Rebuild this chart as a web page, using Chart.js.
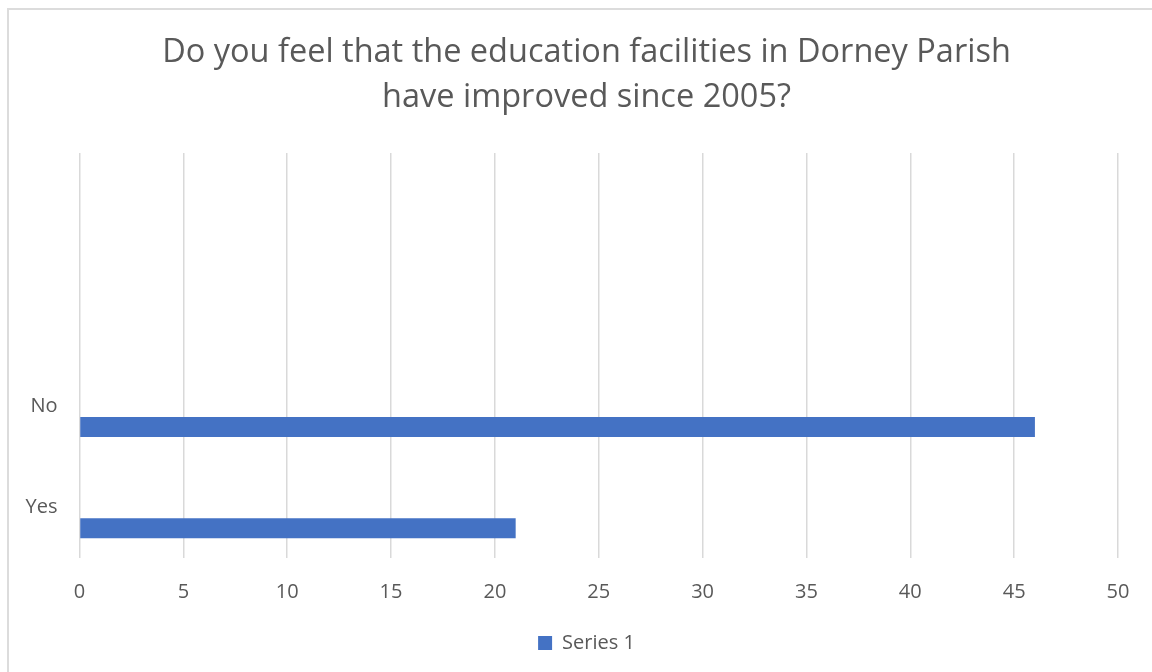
<!DOCTYPE html>
<html>
<head>
<meta charset="utf-8">
<title>Education facilities survey</title>
<script src="https://cdn.jsdelivr.net/npm/chart.js@4.4.1/dist/chart.umd.min.js"></script>
<style>
  html, body { margin: 0; padding: 0; background: #fff; }
  #wrap { position: relative; width: 1152px; height: 672px; overflow: hidden; }
  #frame {
    position: absolute; left: 7px; top: 8px; width: 1200px; height: 720px;
    border-left: 2px solid #dcdcdc; border-top: 2px solid #dcdcdc;
  }
  canvas { position: absolute; left: 0; top: 0; }
</style>
</head>
<body>
<div id="wrap">
  <div id="frame"></div>
  <canvas id="barChart" width="1152" height="672"></canvas>
</div>
<script>
// survey answers, top to bottom (first two rows were left blank in the sheet)
const categories = ["", "", "No", "Yes"];
const series1 = [null, null, 46, 21];
const xTicks = [0, 5, 10, 15, 20, 25, 30, 35, 40, 45, 50];
const titleLines = [
  "Do you feel that the education facilities in Dorney Parish",
  "have improved since 2005?"
];

const FONT = "'Open Sans', 'Liberation Sans', sans-serif";
const GREY = "#595959";
const GRID = "#d9d9d9";

// unused series columns still take their slot in each category band
const emptySeries = (label) => ({
  label,
  data: categories.map(() => null),
  backgroundColor: "transparent",
  categoryPercentage: 0.62,
  barPercentage: 0.95,
});

new Chart(document.getElementById("barChart"), {
  type: "bar",
  data: {
    labels: categories,
    datasets: [
      emptySeries("Series 3"),
      emptySeries("Series 2"),
      {
        label: "Series 1",
        data: series1,
        backgroundColor: "#4472C4",
        categoryPercentage: 0.62,
        barPercentage: 0.95,
      },
    ],
  },
  options: {
    indexAxis: "y",
    responsive: false,
    animation: false,
    layout: { padding: { top: 0, left: 21, right: 0, bottom: 9 } },
    plugins: {
      title: {
        display: true,
        text: titleLines,
        color: GREY,
        font: { family: FONT, size: 32.5, weight: "normal", lineHeight: 1.363 },
        padding: { top: 31, bottom: 33.4 },
      },
      legend: {
        position: "bottom",
        labels: {
          color: GREY,
          font: { family: FONT, size: 20 },
          boxWidth: 14,
          boxHeight: 14,
          padding: 10,
          filter: (item) => item.text === "Series 1",
        },
      },
      tooltip: { enabled: false },
    },
    scales: {
      x: {
        min: 0,
        max: 50,
        afterBuildTicks: (axis) => {
          axis.ticks = xTicks.map((v) => ({ value: v }));
        },
        afterFit: (axis) => { axis.height = 65; },
        grid: { color: GRID, lineWidth: 1.5, drawTicks: false },
        border: { display: false },
        ticks: {
          color: GREY,
          font: { family: FONT, size: 20 },
          padding: 22,
        },
      },
      y: {
        afterFit: (axis) => { axis.width = 58.5; },
        grid: { display: false, drawTicks: false },
        border: { display: false },
        ticks: {
          color: GREY,
          font: { family: FONT, size: 20 },
          padding: 22,
        },
      },
      // blank strip on the right so title and legend sit over the frame's middle
      yRight: {
        type: "linear",
        position: "right",
        afterFit: (axis) => { axis.width = 34; },
        grid: { display: false, drawTicks: false },
        border: { display: false },
        ticks: { display: false },
      },
    },
  },
});
</script>
</body>
</html>
